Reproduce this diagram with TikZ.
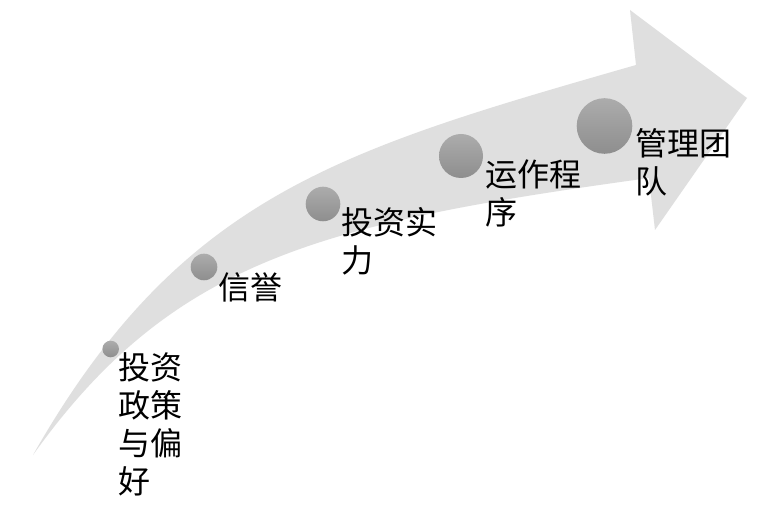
\documentclass[tikz,border=0pt]{standalone}
\usepackage{fontspec}
\newfontfamily\cjk{Noto Sans CJK SC}
\definecolor{arrowgray}{RGB}{223,223,223}
\definecolor{dottop}{RGB}{172,172,172}
\definecolor{dotbot}{RGB}{142,142,142}
\begin{document}
\begin{tikzpicture}[x=1pt,y=-1pt,
  dot/.style={circle, inner sep=0pt, top color=dottop, bottom color=dotbot, draw=none},
  lbl/.style={anchor=north west, inner sep=0pt, align=left, font=\cjk\fontsize{32}{38}\selectfont}]
\useasboundingbox (0,0) rectangle (777,521);
\fill[white] (0,0) rectangle (777,521);
\fill[arrowgray] (33,455) .. controls (181,195) and (340,150) .. (636,65) -- (630,10) -- (747,98) -- (655,230) -- (649,178) .. controls (323,223) and (173,259) .. (33,455) -- cycle;
\node[dot, minimum size=16.6pt] (d1) at (110.7,349) {};
\node[dot, minimum size=26.6pt] (d2) at (204,267) {};
\node[dot, minimum size=34.6pt] (d3) at (323,204) {};
\node[dot, minimum size=44pt] (d4) at (461,156) {};
\node[dot, minimum size=55.6pt] (d5) at (604.5,126) {};
\node[lbl] (t1) at (118.5,352) {投资\\政策\\与偏\\好};
\node[lbl] (t2) at (218.5,272) {信誉};
\node[lbl] (t3) at (341.5,207) {投资实\\力};
\node[lbl] (t4) at (485.5,160) {运作程\\序};
\node[lbl] (t5) at (635.5,128) {管理团\\队};
\end{tikzpicture}
\end{document}
